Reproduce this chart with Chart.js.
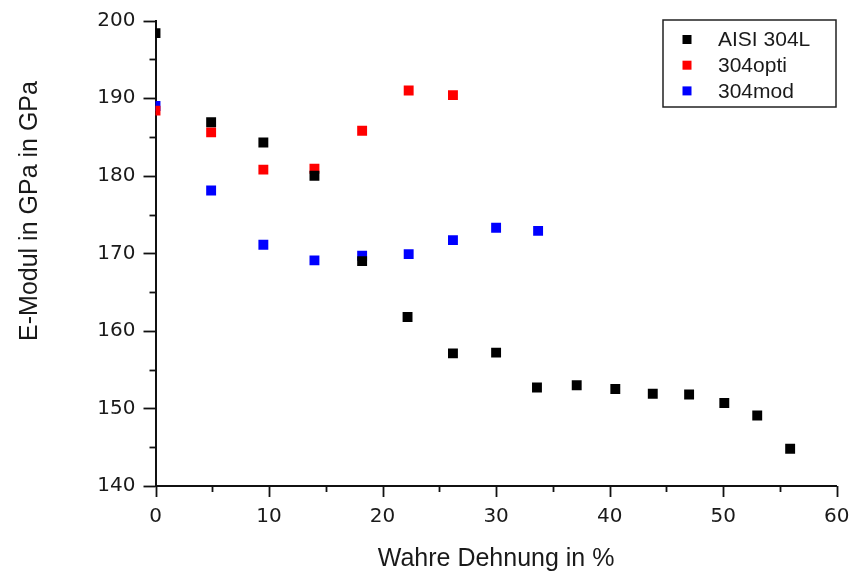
<!DOCTYPE html>
<html>
<head>
<meta charset="utf-8">
<script src="https://cdn.jsdelivr.net/npm/chart.js@4.4.1/dist/chart.umd.min.js"></script>
<style>
  html, body { margin: 0; padding: 0; background: #ffffff; }
  #wrap { width: 854px; height: 578px; }
</style>
</head>
<body>
<div id="wrap"><canvas id="chart" width="854" height="578"></canvas></div>
<script>
// True strain (%) and Young's modulus (GPa) for the three steel grades
const strainAISI   = [0, 4.9, 9.5, 14.0, 18.2, 22.2, 26.2, 30.0, 33.6, 37.1, 40.5, 43.8, 47.0, 50.1, 53.0, 55.9];
const modulusAISI  = [198.4, 186.9, 184.3, 180.0, 169.0, 161.8, 157.1, 157.2, 152.7, 153.0, 152.5, 151.9, 151.8, 150.7, 149.1, 144.8];
const strainOpti   = [0, 4.9, 9.5, 14.0, 18.2, 22.3, 26.2];
const modulusOpti  = [188.4, 185.6, 180.8, 180.9, 185.8, 191.0, 190.4];
const strainMod    = [0, 4.9, 9.5, 14.0, 18.2, 22.3, 26.2, 30.0, 33.7];
const modulusMod   = [189.0, 178.1, 171.1, 169.1, 169.7, 169.9, 171.7, 173.3, 172.9];
const seriesNames  = ['AISI 304L', '304opti', '304mod'];
const seriesColors = ['#000000', '#ff0000', '#0000ff'];
const xTickValues  = [0, 10, 20, 30, 40, 50, 60];
const yTickValues  = [140, 150, 160, 170, 180, 190, 200];
const xTitle = 'Wahre Dehnung in %';
const yTitle = 'E-Modul in GPa in GPa';

const toPoints = (xs, ys) => xs.map((x, i) => ({ x: x, y: ys[i] }));

const seriesData = [
  toPoints(strainAISI, modulusAISI),
  toPoints(strainOpti, modulusOpti),
  toPoints(strainMod, modulusMod)
];

const datasets = seriesData.map((pts, i) => ({
  label: seriesNames[i],
  data: pts,
  pointStyle: 'rect',
  pointRadius: 7,
  pointHoverRadius: 7,
  pointBackgroundColor: seriesColors[i],
  pointBorderColor: seriesColors[i],
  pointBorderWidth: 0,
  showLine: false,
  clip: { left: 0, top: 12, right: 12, bottom: 12 }
}));

// Major/minor tick marks drawn outward from both axes
const axisTicks = {
  id: 'axisTicks',
  afterDraw(chart) {
    const { ctx, chartArea, scales } = chart;
    ctx.save();
    ctx.strokeStyle = '#111111';
    ctx.lineWidth = 1.8;
    const xs = scales.x, ys = scales.y;
    for (let v = xs.min; v <= xs.max + 1e-9; v += 5) {
      const px = Math.round(xs.getPixelForValue(v)) + 0.5;
      const len = (v % 10 === 0) ? 11 : 6;
      ctx.beginPath();
      ctx.moveTo(px, chartArea.bottom);
      ctx.lineTo(px, chartArea.bottom + len);
      ctx.stroke();
    }
    for (let v = ys.min; v <= ys.max + 1e-9; v += 5) {
      const py = Math.round(ys.getPixelForValue(v)) + 0.5;
      const len = (v % 10 === 0) ? 12 : 6;
      ctx.beginPath();
      ctx.moveTo(chartArea.left, py);
      ctx.lineTo(chartArea.left - len, py);
      ctx.stroke();
    }
    ctx.restore();
  }
};

// Vertical axis title
const yAxisTitle = {
  id: 'yAxisTitle',
  afterDraw(chart) {
    const { ctx } = chart;
    ctx.save();
    ctx.translate(37, 211);
    ctx.rotate(-Math.PI / 2);
    ctx.font = '25px "Liberation Sans", Arial, sans-serif';
    ctx.fillStyle = '#1a1a1a';
    ctx.textAlign = 'center';
    ctx.textBaseline = 'alphabetic';
    ctx.fillText(yTitle, 0, 0);
    ctx.restore();
  }
};

// Boxed legend in the upper right of the plot
const boxedLegend = {
  id: 'boxedLegend',
  afterDraw(chart) {
    const { ctx } = chart;
    const left = 663, top = 20, right = 836, bottom = 107;
    ctx.save();
    ctx.fillStyle = '#ffffff';
    ctx.fillRect(left, top, right - left, bottom - top);
    ctx.strokeStyle = '#222222';
    ctx.lineWidth = 1.5;
    ctx.strokeRect(left, top, right - left, bottom - top);
    ctx.font = '21px "Liberation Sans", Arial, sans-serif';
    ctx.textAlign = 'left';
    ctx.textBaseline = 'middle';
    chart.data.datasets.forEach((ds, i) => {
      const cy = 39.5 + i * 25.7;
      ctx.fillStyle = ds.pointBackgroundColor;
      ctx.fillRect(682.5, cy - 4.5, 9, 9);
      ctx.fillStyle = '#1a1a1a';
      ctx.fillText(ds.label, 718, cy + 1);
    });
    ctx.restore();
  }
};

new Chart(document.getElementById('chart'), {
  type: 'scatter',
  data: { datasets: datasets },
  options: {
    responsive: false,
    animation: false,
    layout: { padding: { top: 20.7, right: 17.3, left: 0, bottom: 0 } },
    plugins: {
      legend: { display: false },
      tooltip: { enabled: false }
    },
    scales: {
      x: {
        type: 'linear',
        min: 0,
        max: 60,
        z: 1,
        afterBuildTicks(scale) {
          scale.ticks = xTickValues.map(v => ({ value: v }));
        },
        afterFit(scale) {
          scale.height = 92;
          scale.paddingLeft = 0;
          scale.paddingRight = 0;
        },
        grid: { display: true, drawOnChartArea: false, drawTicks: false },
        border: { display: true, color: '#111111', width: 2 },
        ticks: {
          padding: 19,
          color: '#1a1a1a',
          maxRotation: 0,
          font: { family: '"DejaVu Sans", Verdana, sans-serif', size: 20 }
        },
        title: {
          display: true,
          text: xTitle,
          color: '#1a1a1a',
          padding: { top: 0, bottom: 4 },
          font: { family: '"Liberation Sans", Arial, sans-serif', size: 25 }
        }
      },
      y: {
        type: 'linear',
        min: 140,
        max: 200,
        z: 1,
        afterBuildTicks(scale) {
          scale.ticks = yTickValues.map(v => ({ value: v }));
        },
        afterFit(scale) {
          scale.width = 155.5;
          scale.paddingTop = 0;
          scale.paddingBottom = 0;
        },
        grid: { display: true, drawOnChartArea: false, drawTicks: false },
        border: { display: true, color: '#111111', width: 2 },
        ticks: {
          padding: 20,
          color: '#1a1a1a',
          font: { family: '"DejaVu Sans", Verdana, sans-serif', size: 20 }
        }
      }
    }
  },
  plugins: [axisTicks, yAxisTitle, boxedLegend]
});
</script>
</body>
</html>
